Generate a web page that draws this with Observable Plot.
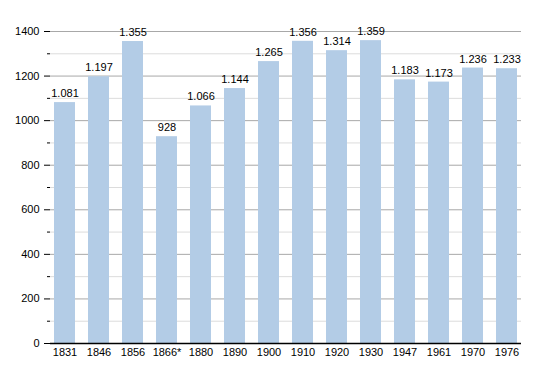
<!DOCTYPE html>
<html>
<head>
<meta charset="utf-8">
<script src="https://cdn.jsdelivr.net/npm/d3@7"></script>
<script src="https://cdn.jsdelivr.net/npm/@observablehq/plot@0.6"></script>
<style>
  html, body { margin: 0; padding: 0; background: #fff; }
</style>
</head>
<body>
<div id="chart"></div>
<script>
const years = ["1831","1846","1856","1866*","1880","1890","1900","1910","1920","1930","1947","1961","1970","1976"];
const population = [1081,1197,1355,928,1066,1144,1265,1356,1314,1359,1183,1173,1236,1233];
const majorTicks = [0,200,400,600,800,1000,1200,1400];
const minorTicks = [100,300,500,700,900,1100,1300];

const data = years.map((y, i) => ({year: y, value: population[i]}));
const fmt = v => {
  const s = String(v);
  return s.length > 3 ? s.slice(0, s.length - 3) + "." + s.slice(-3) : s;
};

const font = "Liberation Sans, Arial, sans-serif";

const chart = Plot.plot({
  width: 550,
  height: 373,
  marginLeft: 50,
  marginRight: 29,
  marginTop: 31,
  marginBottom: 30,
  style: {fontFamily: font, fontSize: "11px", color: "#000", background: "#fff"},
  x: {domain: years, paddingInner: 0.39, paddingOuter: 0.03, label: null, axis: null},
  y: {domain: [0, 1400], label: null, axis: null},
  marks: [
    Plot.ruleY(minorTicks, {stroke: "#dcdcdc", strokeWidth: 1}),
    Plot.ruleY(majorTicks, {stroke: "#a8a8a8", strokeWidth: 1}),
    Plot.barY(data, {x: "year", y: "value", fill: "#b3cce6"}),
    Plot.text(data, {x: "year", y: "value", text: d => fmt(d.value), dy: -9, fill: "#000", fontSize: 11}),
    Plot.axisY(majorTicks, {tickSize: 6, tickFormat: d => String(d), label: null, fontSize: 11, tickPadding: 5, stroke: "#000"}),
    Plot.axisY(minorTicks, {tickSize: 3, tickFormat: () => "", label: null, stroke: "#000"}),
    Plot.axisX({tickSize: 0, label: null, fontSize: 11, tickPadding: 5}),
    Plot.ruleX([0], {frameAnchor: "left", stroke: "#000", strokeWidth: 1.5, y1: 0, y2: 1400}),
    Plot.ruleY([0], {stroke: "#000", strokeWidth: 1.5})
  ]
});
document.getElementById("chart").appendChild(chart);
</script>
</body>
</html>
